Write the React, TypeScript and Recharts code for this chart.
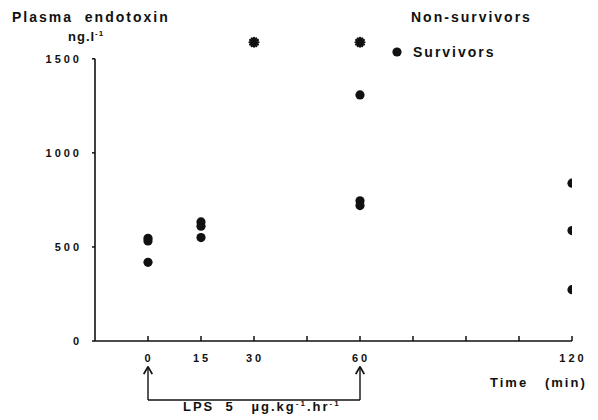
import React from "react";
import {
  ScatterChart,
  Scatter,
  XAxis,
  YAxis,
  ReferenceLine,
} from "recharts";

// values
const survivorTime = [0, 0, 0, 15, 15, 15, 60, 60, 60, 120, 120, 120];
const survivorEndotoxin = [546, 532, 418, 633, 610, 550, 1308, 745, 720, 839, 587, 273];
const nonSurvivorTime = [30, 60];
const nonSurvivorEndotoxin = [1588, 1588];
const timeTicks = [0, 15, 30, 45, 60, 75, 90, 105, 120];
const timeLabels = [0, 15, 30, 60, 120];
const endotoxinTicks = [0, 500, 1000, 1500];

const survivors = survivorTime.map((t, i) => ({ t, v: survivorEndotoxin[i] }));
const nonSurvivors = nonSurvivorTime.map((t, i) => ({ t, v: nonSurvivorEndotoxin[i] }));

const ink = "#111";
const font = "'Liberation Sans', Arial, sans-serif";

const textStyle: React.CSSProperties = {
  position: "absolute",
  fontFamily: font,
  fontWeight: 700,
  fontSize: 14,
  letterSpacing: 2,
  color: ink,
  lineHeight: 1,
  whiteSpace: "nowrap",
};

const TimeTick = (props: any) => {
  const { x, y, payload } = props;
  const show = timeLabels.includes(payload.value);
  return (
    <g>
      <line x1={x} x2={x} y1={y} y2={y - 5} stroke={ink} strokeWidth={1.5} />
      {show && (
        <text
          x={x + 1}
          y={y + 21}
          textAnchor="middle"
          fontFamily={font}
          fontWeight={700}
          fontSize={11}
          letterSpacing={3}
          fill={ink}
        >
          {payload.value}
        </text>
      )}
    </g>
  );
};

const Dot = (props: any) => <circle cx={props.cx} cy={props.cy} r={4.6} fill={ink} />;

// asterisk for off-scale non-survivor values
const Asterisk = (props: any) => {
  const { cx, cy } = props;
  const r = 4.5;
  const spokes = [0, 30, 60, 90, 120, 150];
  return (
    <g stroke={ink} strokeWidth={2.2} strokeLinecap="round">
      {spokes.map((a) => {
        const dx = r * Math.cos((a * Math.PI) / 180);
        const dy = r * Math.sin((a * Math.PI) / 180);
        return <line key={a} x1={cx - dx} y1={cy - dy} x2={cx + dx} y2={cy + dy} />;
      })}
    </g>
  );
};

export default function App() {
  return (
    <div style={{ position: "absolute", left: 0, top: 0, width: 598, height: 420, background: "#fff" }}>
      <ScatterChart width={598} height={420} margin={{ top: 40, right: 26, left: 47, bottom: 49 }}>
        <XAxis
          type="number"
          dataKey="t"
          domain={[-15, 120]}
          ticks={timeTicks}
          tick={<TimeTick />}
          tickLine={false}
          tickSize={0}
          tickMargin={0}
          height={30}
          axisLine={{ stroke: ink, strokeWidth: 1.6 }}
          allowDataOverflow
        />
        <YAxis
          type="number"
          dataKey="v"
          domain={[0, 1600]}
          ticks={endotoxinTicks}
          width={48}
          axisLine={false}
          tickLine={{ stroke: ink, strokeWidth: 1.5 }}
          tickSize={3}
          tickMargin={10}
          tick={{ fill: ink, fontFamily: font, fontWeight: 700, fontSize: 11, letterSpacing: 3 }}
        />
        <ReferenceLine
          segment={[{ x: -15, y: 0 }, { x: -15, y: 1500 }]}
          stroke={ink}
          strokeWidth={1.6}
          ifOverflow="visible"
        />
        {/* LPS infusion bracket below the axis */}
        <ReferenceLine segment={[{ x: 0, y: -314 }, { x: 60, y: -314 }]} stroke={ink} strokeWidth={1.4} ifOverflow="visible" />
        <ReferenceLine segment={[{ x: 0, y: -314 }, { x: 0, y: -136 }]} stroke={ink} strokeWidth={1.4} ifOverflow="visible" />
        <ReferenceLine segment={[{ x: 60, y: -314 }, { x: 60, y: -136 }]} stroke={ink} strokeWidth={1.4} ifOverflow="visible" />
        <ReferenceLine segment={[{ x: -1.2, y: -176 }, { x: 0, y: -136 }]} stroke={ink} strokeWidth={1.8} ifOverflow="visible" />
        <ReferenceLine segment={[{ x: 1.2, y: -176 }, { x: 0, y: -136 }]} stroke={ink} strokeWidth={1.8} ifOverflow="visible" />
        <ReferenceLine segment={[{ x: 58.8, y: -176 }, { x: 60, y: -136 }]} stroke={ink} strokeWidth={1.8} ifOverflow="visible" />
        <ReferenceLine segment={[{ x: 61.2, y: -176 }, { x: 60, y: -136 }]} stroke={ink} strokeWidth={1.8} ifOverflow="visible" />
        <Scatter data={survivors} shape={<Dot />} isAnimationActive={false} />
        <Scatter data={nonSurvivors} shape={<Asterisk />} isAnimationActive={false} />
      </ScatterChart>

      <div style={{ ...textStyle, left: 12, top: 10 }}>Plasma&nbsp; endotoxin</div>
      <div style={{ ...textStyle, left: 68, top: 30, fontSize: 13, letterSpacing: 1 }}>
        ng.l<sup style={{ fontSize: 8 }}>-1</sup>
      </div>
      <div style={{ ...textStyle, left: 411, top: 10 }}>Non-survivors</div>
      <div style={{ ...textStyle, left: 392, top: 45, display: "flex", alignItems: "center" }}>
        <svg width={12} height={12} style={{ marginRight: 9 }}>
          <circle cx={5} cy={6} r={4.6} fill={ink} />
        </svg>
        Survivors
      </div>
      <div style={{ ...textStyle, left: 490, top: 376, fontSize: 13 }}>Time&nbsp;&nbsp; (min)</div>
      <div style={{ ...textStyle, left: 183, top: 400, fontSize: 13 }}>
        LPS&nbsp; 5&nbsp;&nbsp; µg.kg<sup style={{ fontSize: 8 }}>-1</sup>.hr<sup style={{ fontSize: 8 }}>-1</sup>
      </div>
    </div>
  );
}
